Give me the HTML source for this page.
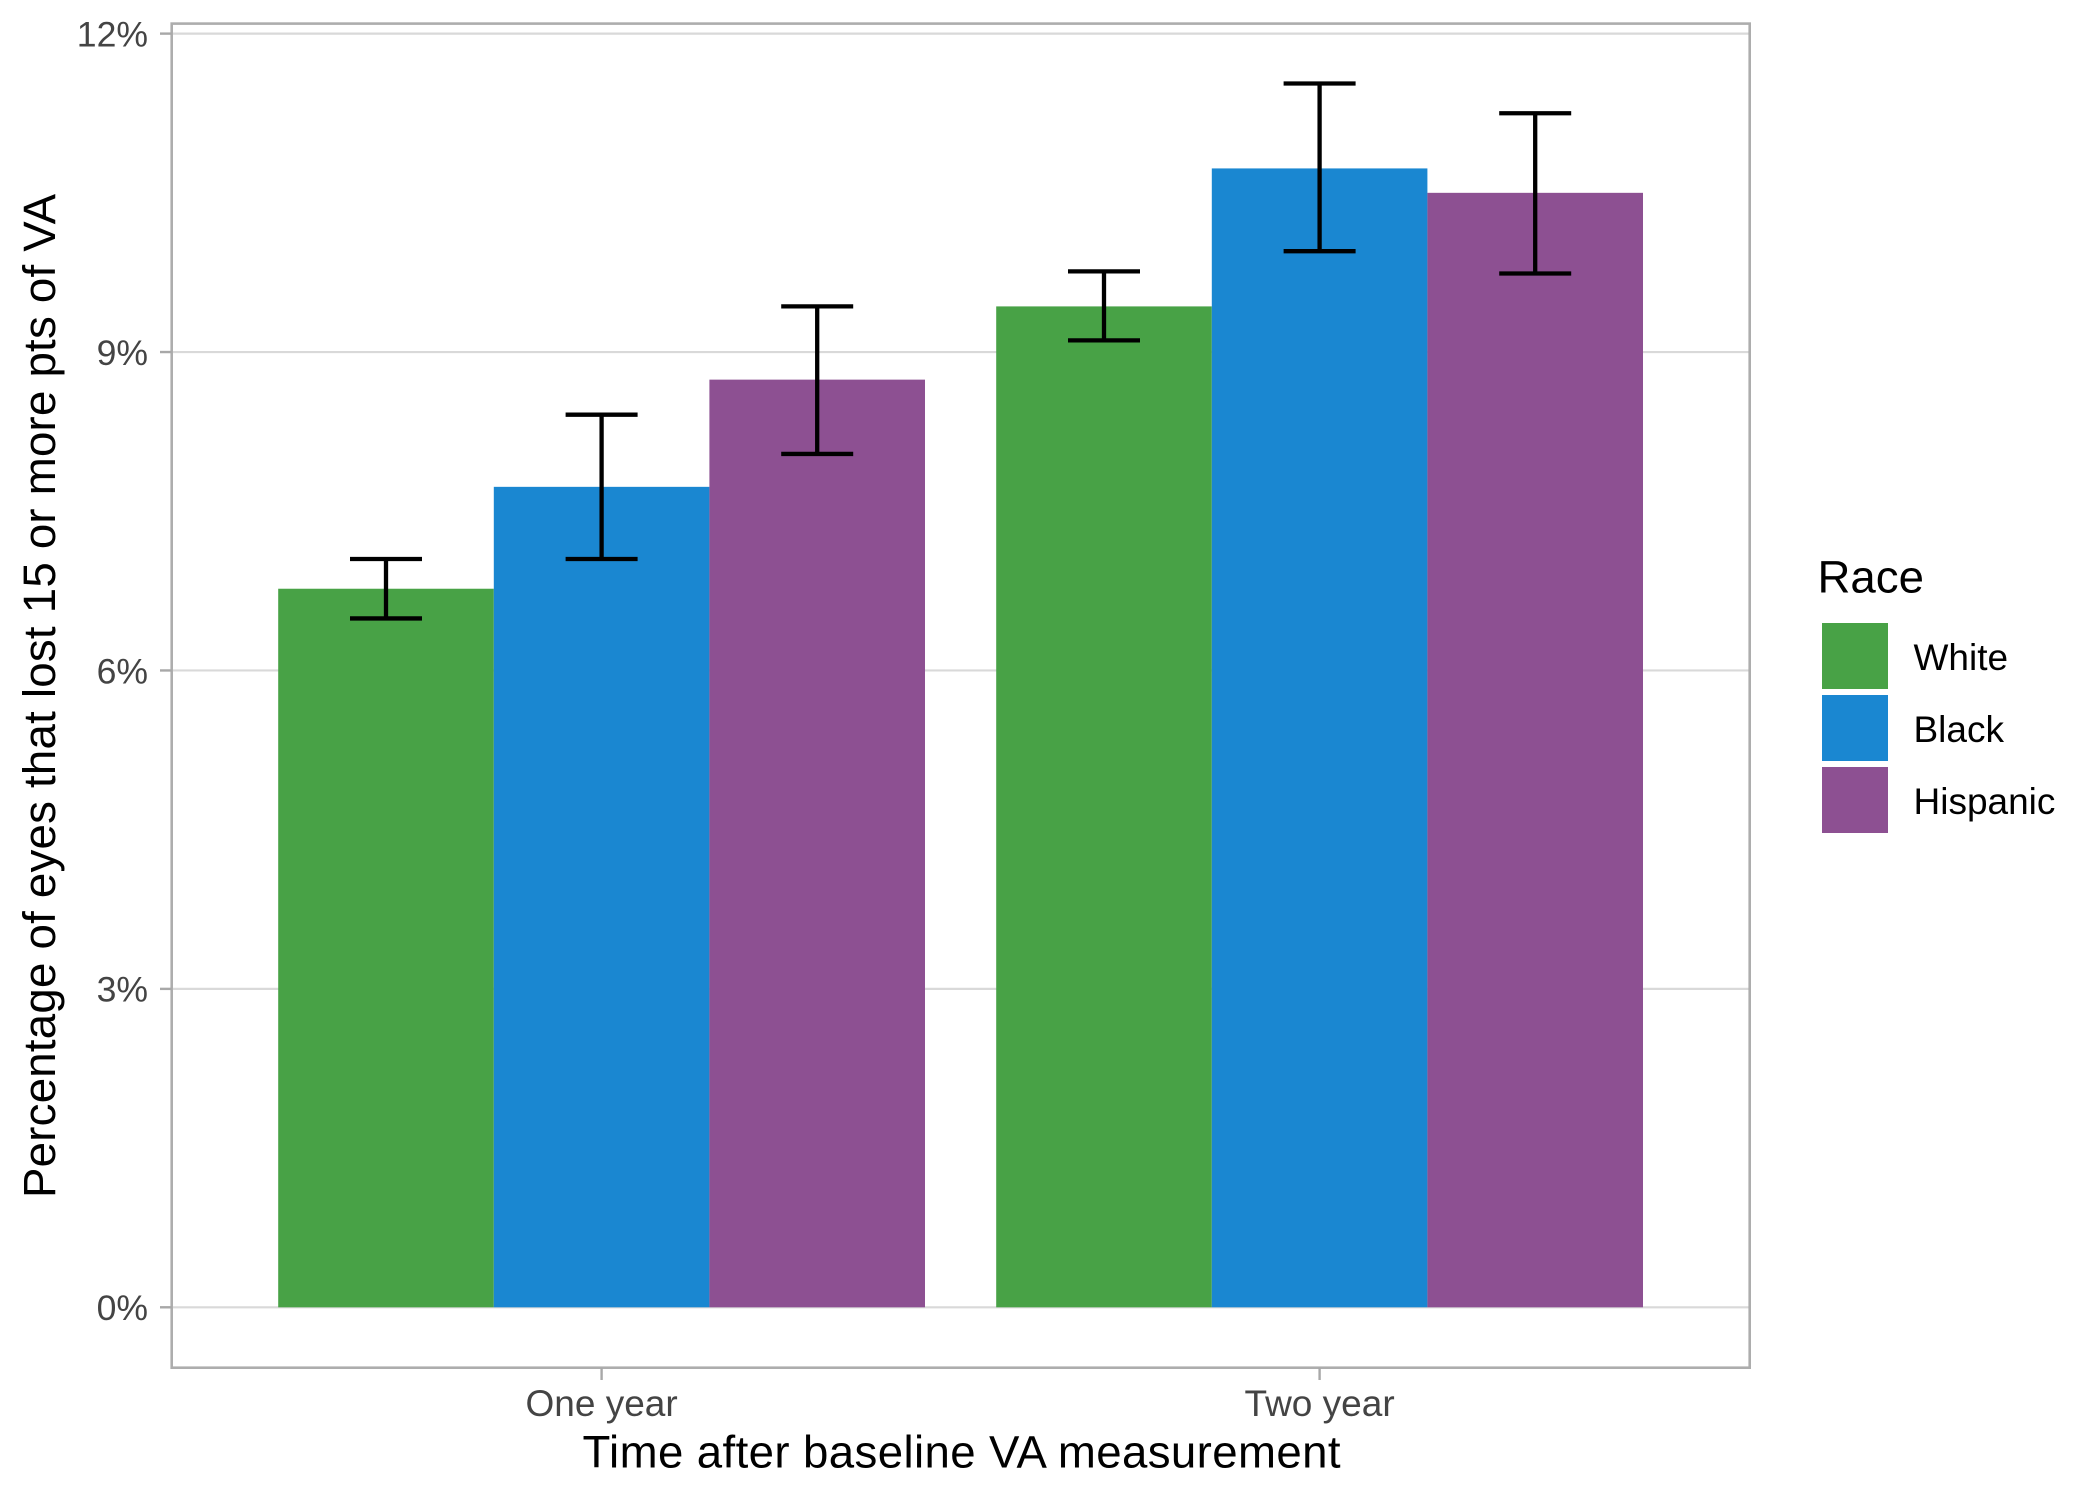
<!DOCTYPE html>
<html lang="en">
<head>
<meta charset="utf-8">
<title>Percentage of eyes that lost 15 or more pts of VA by race</title>
<style>
html,body{margin:0;padding:0;background:#fff;width:2100px;height:1500px;overflow:hidden}
svg{display:block;font-family:"Liberation Sans",Arial,sans-serif}
</style>
</head>
<body>
<svg id="chart" xmlns="http://www.w3.org/2000/svg" width="2100" height="1500" viewBox="0 0 2100 1500">
  <rect x="0" y="0" width="2100" height="1500" fill="#fff"/>
  <g id="grid"></g>
  <g id="bars"></g>
  <g id="errors"></g>
  <rect x="171.7" y="23.6" width="1578" height="1344.1" fill="none" stroke="#adadad" stroke-width="2.6"/>
  <g id="yaxis"></g>
  <g id="xaxis"></g>
  <text transform="translate(55,696) rotate(-90)" text-anchor="middle" font-size="45.6" textLength="1004" lengthAdjust="spacing" fill="#000">Percentage of eyes that lost 15 or more pts of VA</text>
  <text x="961.5" y="1467.5" text-anchor="middle" font-size="45.6" textLength="758" lengthAdjust="spacing" fill="#000">Time after baseline VA measurement</text>
  <g id="legend">
    <text x="1817.5" y="592.5" font-size="45.6" fill="#000">Race</text>
  </g>
</svg>
<script>
const categories = ['One year', 'Two year'];
const seriesNames = ['White', 'Black', 'Hispanic'];
const seriesColors = ['#48a246', '#1a87d1', '#8d5092'];
const whiteValues = [6.77, 9.43];
const blackValues = [7.73, 10.73];
const hispanicValues = [8.74, 10.50];
const whiteLower = [6.49, 9.11];
const whiteUpper = [7.05, 9.76];
const blackLower = [7.05, 9.95];
const blackUpper = [8.41, 11.53];
const hispanicLower = [8.04, 9.74];
const hispanicUpper = [9.43, 11.25];
const yTicks = [0, 3, 6, 9, 12];
const yTickLabels = ['0%', '3%', '6%', '9%', '12%'];

const values = [whiteValues, blackValues, hispanicValues];
const lowers = [whiteLower, blackLower, hispanicLower];
const uppers = [whiteUpper, blackUpper, hispanicUpper];

const NS = 'http://www.w3.org/2000/svg';
const panelLeft = 171.7, panelRight = 1749.7, panelBottom = 1367.7;
const yZero = 1307.3, yPerUnit = 106.14;
const firstCenter = 601.6, categoryStep = 718, barWidth = 215.6, capWidth = 72;

function yScale(v) { return yZero - v * yPerUnit; }
function xCenter(i) { return firstCenter + i * categoryStep; }
function barLeft(i, s) { return xCenter(i) + (s - seriesNames.length / 2) * barWidth; }

function svgEl(tag, parent, attrs) {
  const el = document.createElementNS(NS, tag);
  for (const k in attrs) el.setAttribute(k, attrs[k]);
  parent.appendChild(el);
  return el;
}

const gridG = document.getElementById('grid');
const barsG = document.getElementById('bars');
const errorsG = document.getElementById('errors');
const yAxisG = document.getElementById('yaxis');
const xAxisG = document.getElementById('xaxis');
const legendG = document.getElementById('legend');

yTicks.forEach(function (t, i) {
  const y = yScale(t);
  const grid = svgEl('line', gridG, { x1: panelLeft, x2: panelRight, y1: y, y2: y, stroke: '#d9d9d9', 'stroke-width': 2.2 });
  
  
  const tick = svgEl('line', yAxisG, { x1: 160, x2: panelLeft, y1: y, y2: y, stroke: '#a8a8a8', 'stroke-width': 2.4 });
  
  
  const label = svgEl('text', yAxisG, { x: 148, y: y + 12.8, 'text-anchor': 'end', 'font-size': 35.6, fill: '#444' });
  
  
  label.textContent = yTickLabels[i];
});

categories.forEach(function (c, i) {
  const cx = xCenter(i);
  const tick = svgEl('line', xAxisG, { x1: cx, x2: cx, y1: panelBottom, y2: 1380, stroke: '#a8a8a8', 'stroke-width': 2.4 });
  
  
  const label = svgEl('text', xAxisG, { x: cx, y: 1416, 'text-anchor': 'middle', 'font-size': 37, fill: '#444' });
  
  
  label.textContent = c;
});

seriesNames.forEach(function (name, s) {
  categories.forEach(function (c, i) {
    const top = yScale(values[s][i]);
    const bar = svgEl('rect', barsG, { x: barLeft(i, s), y: top, width: barWidth, height: yZero - top, fill: seriesColors[s] });
    
    

    const cx = barLeft(i, s) + barWidth / 2;
    const yLo = yScale(lowers[s][i]);
    const yHi = yScale(uppers[s][i]);
    const stem = svgEl('line', errorsG, { x1: cx, x2: cx, y1: yHi, y2: yLo, stroke: '#000', 'stroke-width': 4.3 });
    
    
    const capHi = svgEl('line', errorsG, { x1: cx - capWidth / 2, x2: cx + capWidth / 2, y1: yHi, y2: yHi, stroke: '#000', 'stroke-width': 4.3 });
    
    
    const capLo = svgEl('line', errorsG, { x1: cx - capWidth / 2, x2: cx + capWidth / 2, y1: yLo, y2: yLo, stroke: '#000', 'stroke-width': 4.3 });
    
    
  });

  const swatch = svgEl('rect', legendG, { x: 1822, y: 623 + s * 72, width: 66, height: 66, fill: seriesColors[s] });
  
  
  const text = svgEl('text', legendG, { x: 1913.5, y: 670 + s * 72, 'font-size': 37, fill: '#000' });
  
  
  text.textContent = name;
});
</script>
</body>
</html>
